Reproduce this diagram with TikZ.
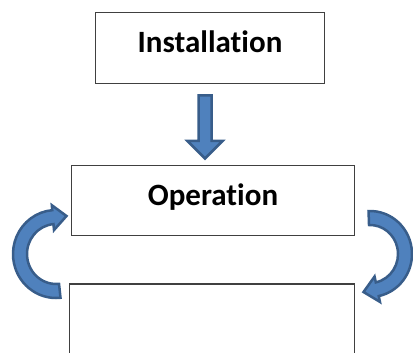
\documentclass[tikz,border=0pt]{standalone}
\usepackage{fontspec}
\setmainfont{Carlito}[Ligatures=NoCommon]
\definecolor{boxblue}{RGB}{79,129,189}
\definecolor{edgeblue}{RGB}{56,93,138}
\begin{document}
\begin{tikzpicture}[x=1pt,y=1pt,
    stage/.style={draw=black!75,line width=1.2pt,inner sep=0pt,
        font=\fontsize{31}{36}\selectfont\bfseries,text height=21pt,text depth=12pt},
    blockarrow/.style={fill=boxblue,draw=edgeblue,line width=2.5pt,line join=miter}]
\useasboundingbox (0,0) rectangle (413,-353);
\clip (0,0) rectangle (413,-353);
\node[stage,minimum width=229pt,minimum height=71pt](inst) at (210,-48){Installation};
\node[stage,minimum width=283pt,minimum height=70pt](oper) at (213,-200.5){Operation};
\node[stage,minimum width=285pt,minimum height=92pt](blank) at (212,-330){};
% down arrow
\draw[blockarrow](198.5,-95.5)--(211.5,-95.5)--(211.5,-141)--(222.5,-141)--(205,-158.5)
    --(187.5,-141)--(198.5,-141)--cycle;
% left loop arrow
\begin{scope}[shift={(56,-254)}]
\draw[blockarrow](-84:29 and 30)--(-84:43 and 44) arc[start angle=-84,end angle=-265,x radius=43,y radius=44]
    --(95:48 and 49)--(10.5,38)--(95:23 and 24)--(95:29 and 30)
    arc[start angle=95,end angle=276,x radius=29,y radius=30]--cycle;
\end{scope}
% right loop arrow
\begin{scope}[shift={(370,-254)}]
\draw[blockarrow](92:42 and 43) arc[start angle=92,end angle=-78,x radius=42,y radius=43]
    --(-78:48 and 49)--(-6.5,-38)--(-78:22 and 23)--(-78:28 and 29)
    arc[start angle=-78,end angle=92,x radius=28,y radius=29]--cycle;
\end{scope}
\end{tikzpicture}
\end{document}
